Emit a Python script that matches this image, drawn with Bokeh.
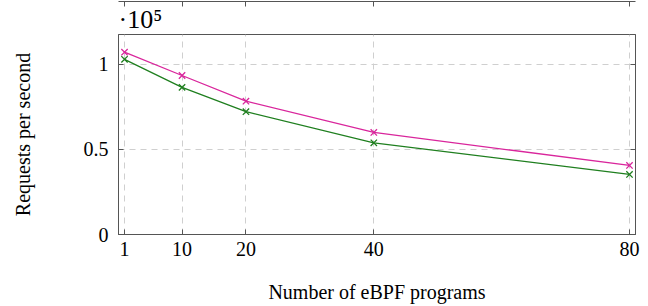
from bokeh.plotting import figure
from bokeh.models import Range1d, FixedTicker, LinearAxis, Title
from bokeh.embed import file_html
from bokeh.resources import INLINE

programs = [1, 10, 20, 40, 80]
rps_magenta = [107200, 93500, 78400, 60000, 40600]
rps_green = [103000, 86500, 72200, 53900, 35300]
x_ticks = [1, 10, 20, 40, 80]
y_ticks = [0, 50000, 100000]
y_tick_labels = {0: "0", 50000: "0.5", 100000: "1"}
x_title = "Number of eBPF programs"
y_title = "Requests per second"
scale_note = "·10⁵"

FONT = "Liberation Serif"
AX = "#555555"

p = figure(frame_width=517, frame_height=200, output_backend="svg", toolbar_location=None,
           x_range=Range1d(0.06, 80.94), y_range=Range1d(0, 117600),
           min_border_left=118, min_border_right=5, min_border_top=34, min_border_bottom=72)
p.background_fill_color = "white"
p.border_fill_color = "white"
p.outline_line_color = AX
p.outline_line_width = 1
p.title = None

note = Title(text=scale_note, align="left", text_font=FONT, text_font_size="26px",
             text_font_style="normal", text_color="black", standoff=2)
p.add_layout(note, "above")

for g in (p.xgrid[0], p.ygrid[0]):
    g.grid_line_color = "#cfcfcf"
    g.grid_line_dash = "6 5"
    g.grid_line_width = 1
p.xgrid.ticker = FixedTicker(ticks=x_ticks)
p.ygrid.ticker = FixedTicker(ticks=y_ticks)

def style(ax):
    ax.axis_line_color = AX
    ax.major_tick_in = 5
    ax.major_tick_out = 0
    ax.major_tick_line_color = AX
    ax.minor_tick_line_color = None
    ax.major_label_text_font = FONT
    ax.major_label_text_font_size = "20px"
    ax.major_label_text_color = "black"
    ax.axis_label_text_font = FONT
    ax.axis_label_text_font_size = "20px"
    ax.axis_label_text_font_style = "normal"
    ax.axis_label_text_color = "black"

xa = p.xaxis[0]
style(xa)
xa.ticker = FixedTicker(ticks=x_ticks)
xa.major_label_standoff = 7
xa.axis_label = x_title
xa.axis_label_standoff = 22

ya = p.yaxis[0]
style(ya)
ya.ticker = FixedTicker(ticks=y_ticks)
ya.major_label_overrides = y_tick_labels
ya.major_label_standoff = 10
ya.axis_label = y_title
ya.axis_label_standoff = 47

top = LinearAxis(ticker=FixedTicker(ticks=x_ticks))
style(top)
top.major_label_overrides = {t: "" for t in x_ticks}
top.major_label_standoff = 0
top.major_label_text_font_size = "0px"
p.add_layout(top, "above")
right = LinearAxis(ticker=FixedTicker(ticks=y_ticks))
style(right)
right.major_label_overrides = {t: "" for t in y_ticks}
right.major_label_standoff = 0
right.major_label_text_font_size = "0px"
p.add_layout(right, "right")

MAG = "#d9269c"
GRN = "#1f7f1f"
p.line(programs, rps_magenta, line_color=MAG, line_width=1.3)
p.scatter(programs, rps_magenta, marker="x", size=9, line_color=MAG, line_width=1.3)
p.line(programs, rps_green, line_color=GRN, line_width=1.3)
p.scatter(programs, rps_green, marker="x", size=9, line_color=GRN, line_width=1.3)

open("out.html", "w").write(file_html(p, INLINE))
